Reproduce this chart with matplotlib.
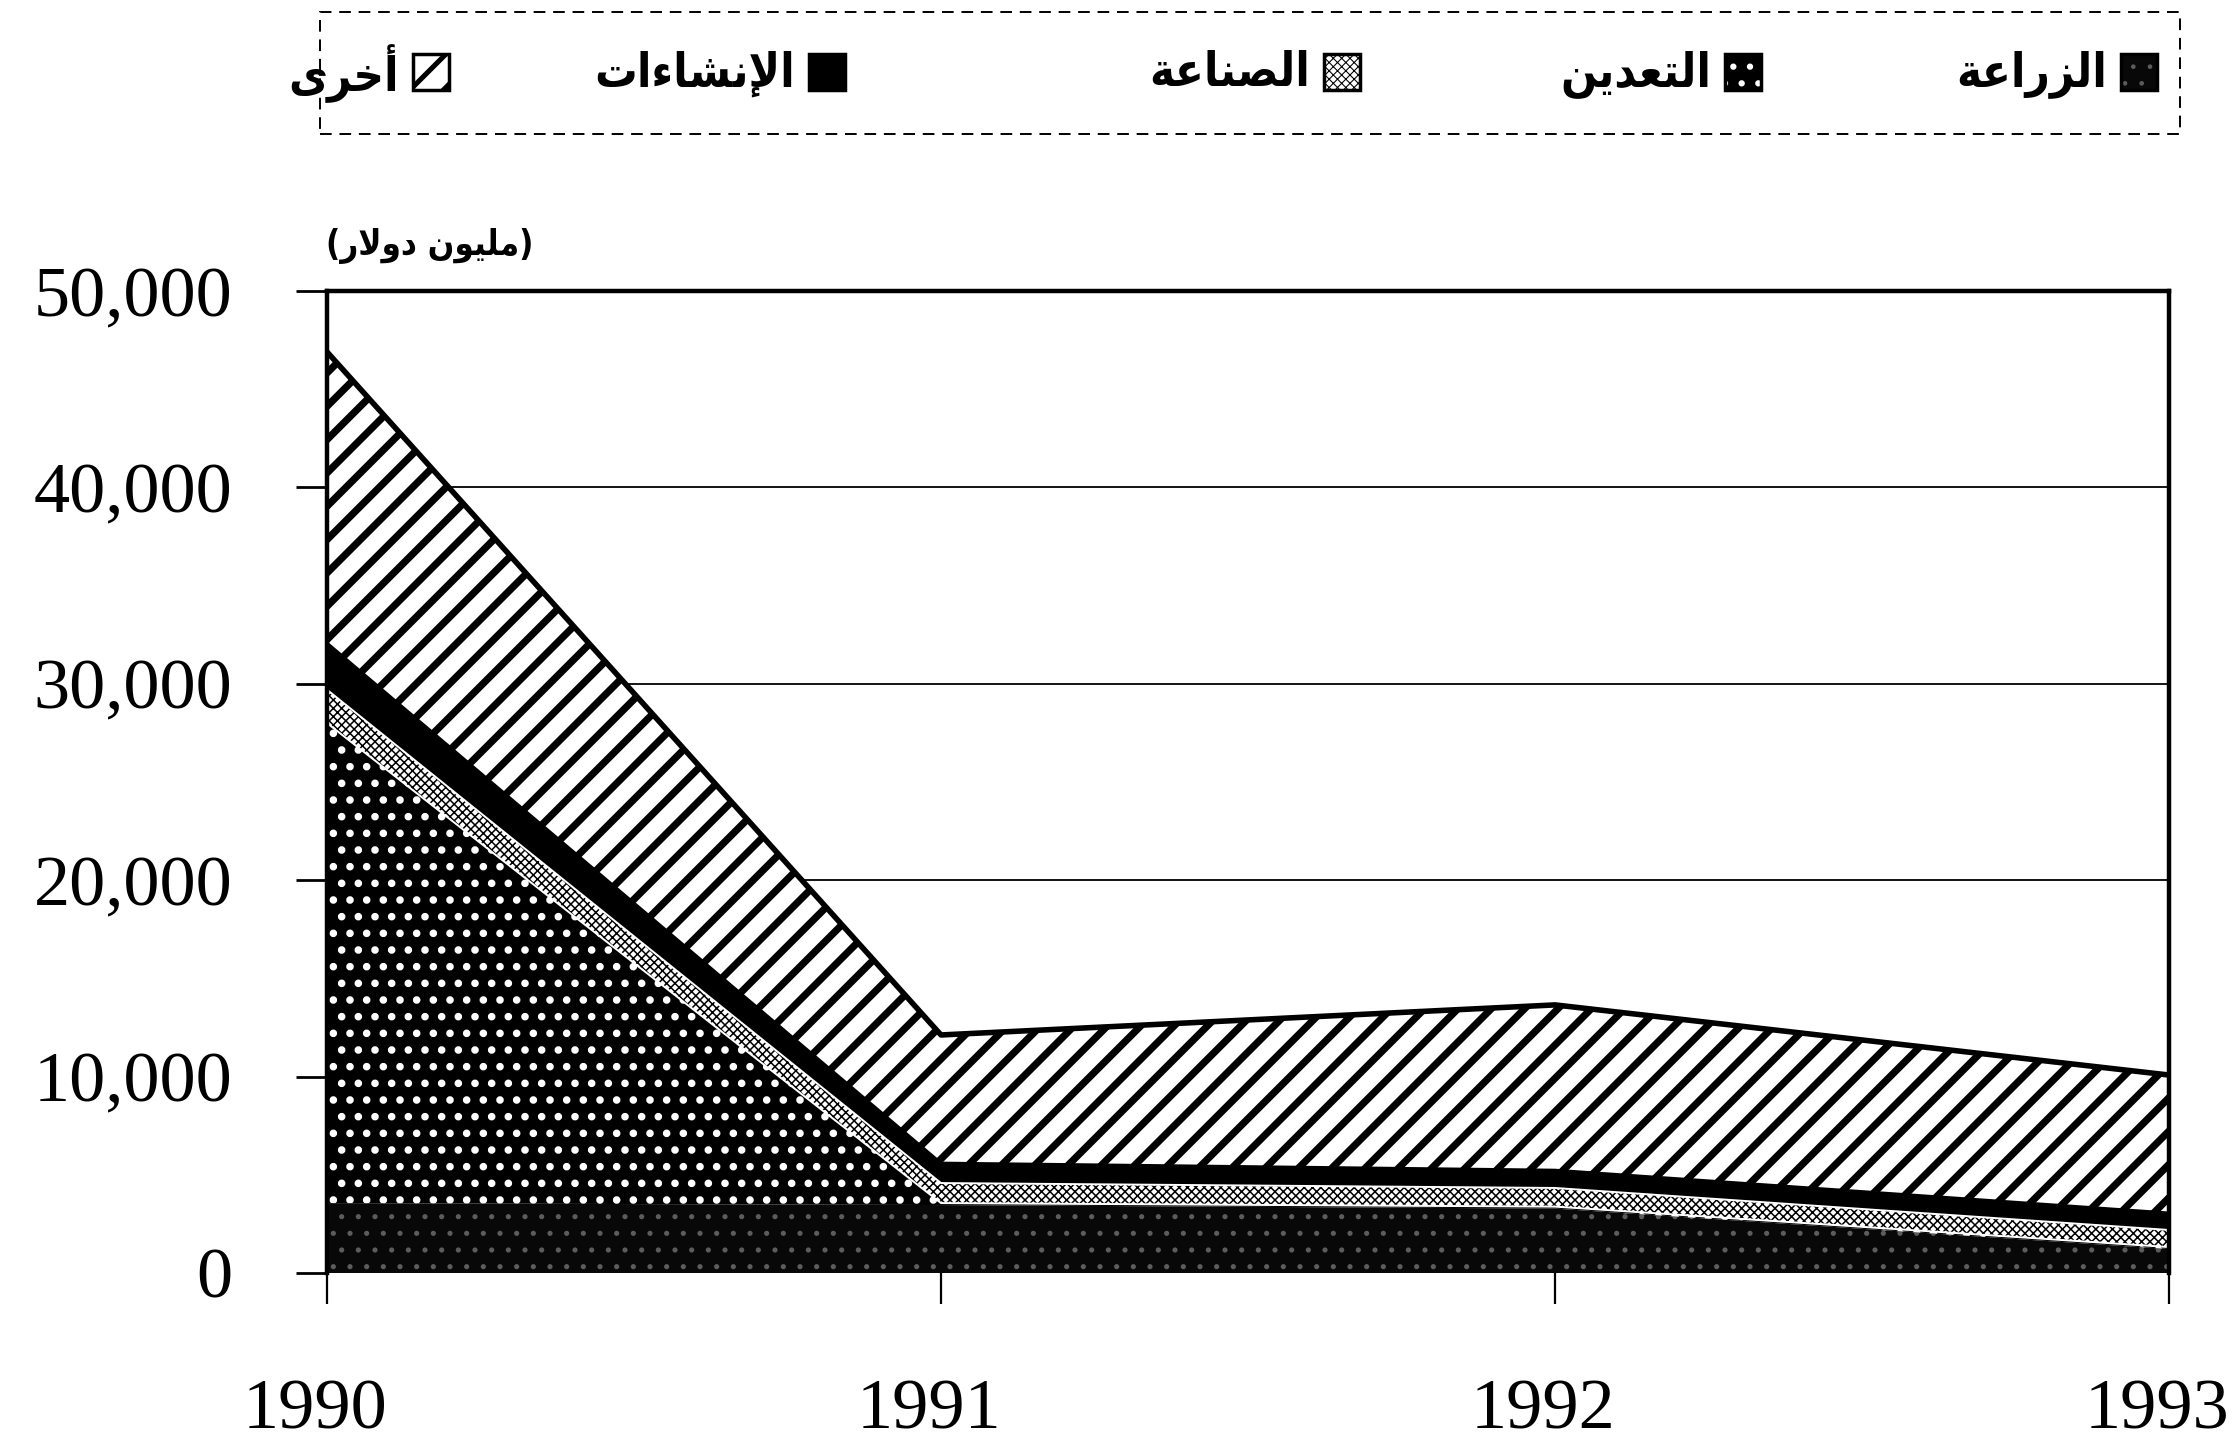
import numpy as np
import matplotlib as mpl
mpl.use('Agg')
import matplotlib.pyplot as plt
from matplotlib.patches import Rectangle
from matplotlib.transforms import ScaledTranslation

# ---------------- data ----------------
years = [1990, 1991, 1992, 1993]
categories = ['الزراعة', 'التعدين', 'الصناعة', 'الإنشاءات', 'أخرى']
agriculture = [3560, 3460, 3280, 1220]
mining = [24440, 100, 100, 100]
manufacturing = [1700, 1020, 950, 870]
construction = [2380, 1020, 910, 870]
other = [14820, 6520, 8410, 7020]
y_ticks = [0, 10000, 20000, 30000, 40000, 50000]
y_tick_labels = ['0', '10,000', '20,000', '30,000', '40,000', '50,000']
x_tick_labels = ['1990', '1991', '1992', '1993']
unit_label = '(مليون دولار)'

# ------------- simple Arabic shaping (presentation forms, RTL) -------------
_AR = {
    '\u0621': (0xFE80, None, None, None),
    '\u0622': (0xFE81, 0xFE82, None, None),
    '\u0623': (0xFE83, 0xFE84, None, None),
    '\u0625': (0xFE87, 0xFE88, None, None),
    '\u0627': (0xFE8D, 0xFE8E, None, None),
    '\u0628': (0xFE8F, 0xFE90, 0xFE91, 0xFE92),
    '\u0629': (0xFE93, 0xFE94, None, None),
    '\u062A': (0xFE95, 0xFE96, 0xFE97, 0xFE98),
    '\u062E': (0xFEA5, 0xFEA6, 0xFEA7, 0xFEA8),
    '\u062F': (0xFEA9, 0xFEAA, None, None),
    '\u0631': (0xFEAD, 0xFEAE, None, None),
    '\u0632': (0xFEAF, 0xFEB0, None, None),
    '\u0634': (0xFEB5, 0xFEB6, 0xFEB7, 0xFEB8),
    '\u0635': (0xFEB9, 0xFEBA, 0xFEBB, 0xFEBC),
    '\u0639': (0xFEC9, 0xFECA, 0xFECB, 0xFECC),
    '\u0644': (0xFEDD, 0xFEDE, 0xFEDF, 0xFEE0),
    '\u0645': (0xFEE1, 0xFEE2, 0xFEE3, 0xFEE4),
    '\u0646': (0xFEE5, 0xFEE6, 0xFEE7, 0xFEE8),
    '\u0648': (0xFEED, 0xFEEE, None, None),
    '\u0649': (0xFEEF, 0xFEF0, None, None),
    '\u064A': (0xFEF1, 0xFEF2, 0xFEF3, 0xFEF4),
}
_LAMALEF = {'\u0622': (0xFEF5, 0xFEF6), '\u0623': (0xFEF7, 0xFEF8),
            '\u0625': (0xFEF9, 0xFEFA), '\u0627': (0xFEFB, 0xFEFC)}
_MIRROR = {'(': ')', ')': '('}


def shape_ar(s):
    units = []
    i = 0
    while i < len(s):
        c = s[i]
        if c == '\u0644' and i + 1 < len(s) and s[i + 1] in _LAMALEF:
            units.append(('LA', s[i + 1]))
            i += 2
        else:
            units.append(('C', c))
            i += 1

    def joins_next(u):
        if u[0] == 'LA':
            return False
        f = _AR.get(u[1])
        return f is not None and f[2] is not None

    def joins_prev(u):
        if u[0] == 'LA':
            return True
        f = _AR.get(u[1])
        return f is not None and f[1] is not None

    out = []
    for k, u in enumerate(units):
        prev = units[k - 1] if k > 0 else None
        nxt = units[k + 1] if k + 1 < len(units) else None
        p = prev is not None and joins_next(prev) and joins_prev(u)
        n = nxt is not None and joins_next(u) and joins_prev(nxt)
        if u[0] == 'LA':
            out.append(chr(_LAMALEF[u[1]][1 if p else 0]))
        elif u[1] in _AR:
            f = _AR[u[1]]
            if p and n:
                g = f[3]
            elif p:
                g = f[1]
            elif n:
                g = f[2]
            else:
                g = f[0]
            out.append(chr(g))
        else:
            out.append(_MIRROR.get(u[1], u[1]))
    return ''.join(reversed(out))


# ---------------- figure ----------------
W, H = 2232, 1449
fig = plt.figure(figsize=(W / 100, H / 100), dpi=100)
fig.patch.set_facecolor('white')


def fx(px):
    return px / W


def fy(py):
    return 1 - py / H


ax_l, ax_r, ax_t, ax_b = 327, 2169, 291, 1273
ax = fig.add_axes([fx(ax_l), fy(ax_b), fx(ax_r) - fx(ax_l), fy(ax_t) - fy(ax_b)])

styles = [
    dict(face='#080808', edge='#5c5c5c', hatch='.', hlw=1.3),
    dict(face='black', edge='white', hatch='.', hlw=3.0),
    dict(face='white', edge='black', hatch='xxxx', hlw=1.1),
    dict(face='black', edge='black', hatch=None, hlw=1.0),
    dict(face='white', edge='black', hatch='/', hlw=5.2),
]

series = [agriculture, mining, manufacturing, construction, other]
x = np.array(years, dtype=float)
base = np.zeros(len(years))
bounds = [base.copy()]
for vals, st in zip(series, styles):
    top = base + np.array(vals, dtype=float)
    with mpl.rc_context({'hatch.linewidth': st['hlw']}):
        coll = ax.fill_between(x, base, top, facecolor=st['face'],
                               edgecolor=st['edge'], hatch=st['hatch'],
                               linewidth=0, zorder=2)
    if hasattr(coll, 'set_hatch_linewidth'):
        coll.set_hatch_linewidth(st['hlw'])
    bounds.append(top)
    base = top

# boundary lines
ax.plot(x, bounds[2], color='white', lw=1.4, zorder=3)
ax.plot(x, bounds[3], color='white', lw=1.4, zorder=3)
ax.plot(x, bounds[4], color='black', lw=2.0, zorder=3)
ax.plot(x, bounds[5], color='black', lw=4.0, zorder=3, solid_joinstyle='round')

ax.set_xlim(years[0], years[-1])
ax.set_ylim(0, 50000)
ax.set_yticks(y_ticks)
ax.set_yticklabels(y_tick_labels)
ax.set_xticks(years)
ax.set_xticklabels(x_tick_labels)

for yv in y_ticks[1:-1]:
    ax.axhline(yv, color='black', lw=1.3, zorder=1)

for side in ['left', 'top', 'right']:
    ax.spines[side].set_linewidth(3.2)
    ax.spines[side].set_color('black')
    ax.spines[side].set_zorder(5)
ax.spines['bottom'].set_visible(False)

ax.tick_params(axis='y', direction='out', length=22, width=2.0, pad=46,
               labelsize=52, colors='black')
ax.tick_params(axis='x', direction='out', length=22, width=1.6, pad=54,
               labelsize=52, colors='black')
for lab in ax.get_yticklabels() + ax.get_xticklabels():
    lab.set_fontfamily('Liberation Serif')
off = ScaledTranslation(-12 / 100, 0, fig.dpi_scale_trans)
for lab in ax.get_xticklabels():
    lab.set_transform(lab.get_transform() + off)

# unit label
fig.text(fx(430), fy(246), shape_ar(unit_label), ha='center', va='center',
         family=['DejaVu Sans'], weight='bold', stretch='condensed', size=25)

# ---------------- legend (right-to-left) ----------------
fig.add_artist(Rectangle((fx(320), fy(134)), fx(2180) - fx(320), fy(12) - fy(134),
                         transform=fig.transFigure, fill=False, edgecolor='black',
                         lw=1.4, linestyle=(0, (6, 4))))
patch_left = [2121, 1725, 1324, 809, 413]
pw, ph, ptop = 36, 36, 54
for cat, st, pl in zip(categories, styles, patch_left):
    with mpl.rc_context({'hatch.linewidth': st['hlw'] * 0.7}):
        r = Rectangle((fx(pl), fy(ptop + ph)), fx(pw), fy(0) - fy(ph),
                      transform=fig.transFigure, facecolor=st['face'],
                      edgecolor=st['edge'], hatch=st['hatch'], lw=0)
    if hasattr(r, 'set_hatch_linewidth'):
        r.set_hatch_linewidth(st['hlw'] * 0.7)
    fig.add_artist(r)
    fig.add_artist(Rectangle((fx(pl), fy(ptop + ph)), fx(pw), fy(0) - fy(ph),
                             transform=fig.transFigure, fill=False,
                             edgecolor='black', lw=2.5))
    fig.text(fx(pl - 14), fy(74), shape_ar(cat), ha='right', va='center',
             family=['DejaVu Sans'], weight='bold', stretch='condensed', size=34)

fig.savefig('out.png', dpi=100, facecolor='white')
